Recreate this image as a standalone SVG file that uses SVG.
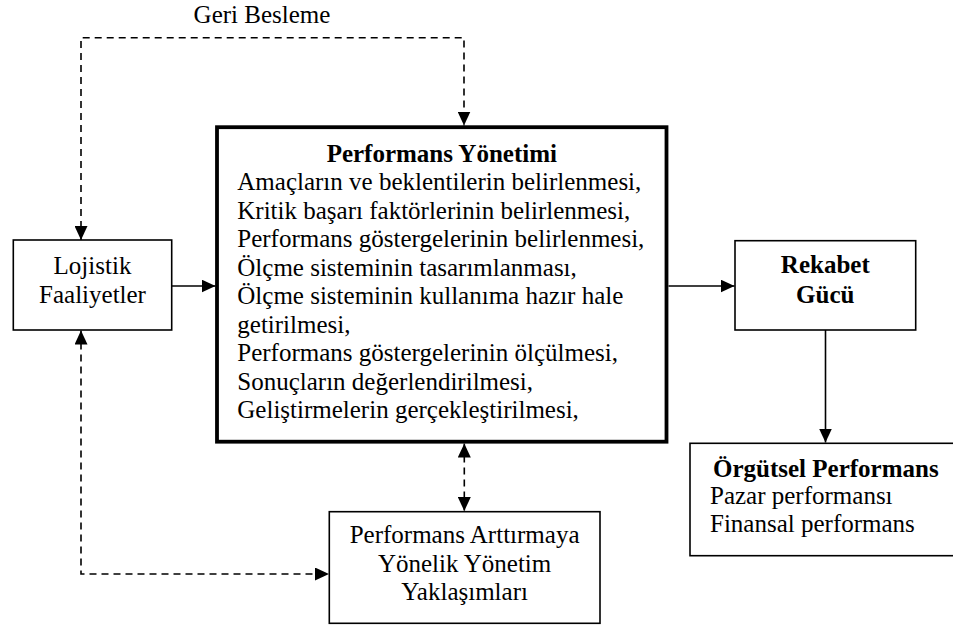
<svg xmlns="http://www.w3.org/2000/svg" width="953" height="628" viewBox="0 0 953 628">
  <defs>
    <marker id="head" markerUnits="userSpaceOnUse" markerWidth="14" markerHeight="13" refX="14" refY="6.5" orient="auto-start-reverse">
      <path d="M0,0 L14,6.5 L0,13 Z" fill="#000"/>
    </marker>
    <style>
      .box { fill: #fff; stroke: #000; stroke-width: 1.6; }
      .main { fill: #fff; stroke: #000; stroke-width: 3.8; }
      .t { font-family: "Liberation Serif", "Times New Roman", serif; font-size: 25px; fill: #000; }
      .b { font-weight: bold; }
      .c { text-anchor: middle; }
      .solid { fill: none; stroke: #000; stroke-width: 1.6; }
      .dash { fill: none; stroke: #000; stroke-width: 1.6; stroke-dasharray: 7 5; }
    </style>
  </defs>
  <rect width="953" height="628" fill="#fff"/>

  <g id="connectors">
    <!-- feedback loop from the management box back to logistics -->
    <path class="dash" d="M81,240 V37.7 H464 V125.5" marker-start="url(#head)" marker-end="url(#head)"/>
    <text class="t c" x="262" y="23">Geri Besleme</text>
    <!-- logistics <-> improvement approaches -->
    <path class="dash" d="M81,330.5 V574 H329" marker-start="url(#head)" marker-end="url(#head)"/>
    <!-- management <-> improvement approaches -->
    <path class="dash" d="M464.3,443.5 V511" marker-start="url(#head)" marker-end="url(#head)"/>
    <!-- main flow -->
    <path class="solid" d="M172,286 H215.5" marker-end="url(#head)"/>
    <path class="solid" d="M668.5,286 H734.5" marker-end="url(#head)"/>
    <path class="solid" d="M825.5,330 V442.5" marker-end="url(#head)"/>
  </g>

  <g id="lojistik">
    <rect class="box" x="13.3" y="240" width="158.4" height="90"/>
    <text class="t c" x="92.5" y="274">Lojistik</text>
    <text class="t c" x="92.5" y="302.7">Faaliyetler</text>
  </g>

  <g id="performans-yonetimi">
    <rect class="main" x="217" y="127.2" width="449.5" height="314.5"/>
    <text class="t b c" x="441.8" y="161.7">Performans Yönetimi</text>
    <text class="t" x="237.3" y="190">Amaçların ve beklentilerin belirlenmesi,</text>
    <text class="t" x="237.3" y="218.5">Kritik başarı faktörlerinin belirlenmesi,</text>
    <text class="t" x="237.3" y="247">Performans göstergelerinin belirlenmesi,</text>
    <text class="t" x="237.3" y="275.5">Ölçme sisteminin tasarımlanması,</text>
    <text class="t" x="237.3" y="304">Ölçme sisteminin kullanıma hazır hale</text>
    <text class="t" x="237.3" y="332.5">getirilmesi,</text>
    <text class="t" x="237.3" y="361">Performans göstergelerinin ölçülmesi,</text>
    <text class="t" x="237.3" y="389.5">Sonuçların değerlendirilmesi,</text>
    <text class="t" x="237.3" y="418">Geliştirmelerin gerçekleştirilmesi,</text>
  </g>

  <g id="rekabet-gucu">
    <rect class="box" x="735" y="240.7" width="180.7" height="89.3"/>
    <text class="t b c" x="825.3" y="273.3">Rekabet</text>
    <text class="t b c" x="825.3" y="303.3">Gücü</text>
  </g>

  <g id="orgutsel-performans">
    <rect class="box" x="690" y="443.3" width="290" height="112.4"/>
    <text class="t b" x="713" y="476.7">Örgütsel Performans</text>
    <text class="t" x="710" y="503.5">Pazar performansı</text>
    <text class="t" x="710" y="531.7">Finansal performans</text>
  </g>

  <g id="yaklasimlar">
    <rect class="box" x="329.3" y="511.7" width="270.7" height="111.6"/>
    <text class="t c" x="464.6" y="542.7">Performans Arttırmaya</text>
    <text class="t c" x="464.6" y="571.7">Yönelik Yönetim</text>
    <text class="t c" x="464.6" y="600.3">Yaklaşımları</text>
  </g>
</svg>
